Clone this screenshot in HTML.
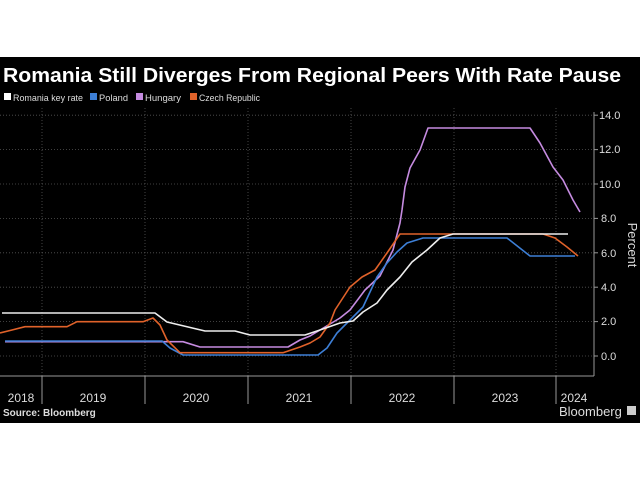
<!DOCTYPE html>
<html><head><style>
body{margin:0;background:#fff;}
svg{display:block;font-family:"Liberation Sans",sans-serif;}
</style></head><body>
<svg width="640" height="480" viewBox="0 0 640 480">
<rect x="0" y="57" width="640" height="366" fill="#000"/>
<text x="3" y="82" fill="#fff" font-size="20" font-weight="bold" textLength="618" lengthAdjust="spacingAndGlyphs">Romania Still Diverges From Regional Peers With Rate Pause</text>
<g font-size="9" fill="#ddd">
<rect x="4" y="93" width="7" height="7" fill="#fff"/><text x="13" y="101" textLength="70" lengthAdjust="spacingAndGlyphs">Romania key rate</text>
<rect x="90" y="93" width="7" height="7" fill="#3d7fd6"/><text x="99" y="101" textLength="29" lengthAdjust="spacingAndGlyphs">Poland</text>
<rect x="136" y="93" width="7" height="7" fill="#c58be0"/><text x="145" y="101" textLength="36" lengthAdjust="spacingAndGlyphs">Hungary</text>
<rect x="190" y="93" width="7" height="7" fill="#e0622a"/><text x="199" y="101" textLength="61" lengthAdjust="spacingAndGlyphs">Czech Republic</text>
</g>
<g stroke="#555" stroke-width="0.8" stroke-dasharray="1,2">
<line x1="0" x2="594" y1="115.2" y2="115.2"/><line x1="0" x2="594" y1="149.6" y2="149.6"/>
<line x1="0" x2="594" y1="184" y2="184"/><line x1="0" x2="594" y1="218.4" y2="218.4"/>
<line x1="0" x2="594" y1="252.8" y2="252.8"/><line x1="0" x2="594" y1="287.2" y2="287.2"/>
<line x1="0" x2="594" y1="321.6" y2="321.6"/><line x1="0" x2="594" y1="356" y2="356"/>
<line x1="42" x2="42" y1="108" y2="376"/><line x1="145" x2="145" y1="108" y2="376"/>
<line x1="248" x2="248" y1="108" y2="376"/><line x1="351" x2="351" y1="108" y2="376"/>
<line x1="454" x2="454" y1="108" y2="376"/><line x1="556" x2="556" y1="108" y2="376"/>
</g>
<g stroke="#999" stroke-width="1">
<line x1="0" x2="594" y1="376" y2="376"/><line x1="594" x2="594" y1="112" y2="376"/>
<line x1="42" x2="42" y1="376" y2="404"/><line x1="145" x2="145" y1="376" y2="404"/>
<line x1="248" x2="248" y1="376" y2="404"/><line x1="351" x2="351" y1="376" y2="404"/>
<line x1="454" x2="454" y1="376" y2="404"/><line x1="556" x2="556" y1="376" y2="404"/>
<line x1="594" x2="598" y1="115.2" y2="115.2"/><line x1="594" x2="598" y1="149.6" y2="149.6"/>
<line x1="594" x2="598" y1="184" y2="184"/><line x1="594" x2="598" y1="218.4" y2="218.4"/>
<line x1="594" x2="598" y1="252.8" y2="252.8"/><line x1="594" x2="598" y1="287.2" y2="287.2"/>
<line x1="594" x2="598" y1="321.6" y2="321.6"/><line x1="594" x2="598" y1="356" y2="356"/>
</g>
<g font-size="11" fill="#ddd">
<text x="599" y="119">14.0</text><text x="599" y="153">12.0</text><text x="599" y="188">10.0</text>
<text x="601" y="222">8.0</text><text x="601" y="257">6.0</text><text x="601" y="291">4.0</text>
<text x="601" y="325">2.0</text><text x="601" y="360">0.0</text>
<text x="628" y="245" font-size="13" transform="rotate(90 628 245)" text-anchor="middle">Percent</text>
<g font-size="12" text-anchor="middle">
<text x="21" y="402">2018</text><text x="93" y="402">2019</text><text x="196" y="402">2020</text>
<text x="299" y="402">2021</text><text x="402" y="402">2022</text><text x="505" y="402">2023</text><text x="574" y="402">2024</text>
</g>
</g>
<text x="3" y="416" fill="#ddd" font-size="10" font-weight="bold">Source: Bloomberg</text>
<text x="559" y="416" fill="#ddd" font-size="13">Bloomberg</text>
<rect x="627" y="406" width="9" height="9" fill="#ccc"/>
<g fill="none" stroke-width="1.6" stroke-linejoin="round">
<polyline stroke="#c58be0" points="5,341.7 183,341.7 200,347 288,347 300,340 310,336 320,330 340,318 350,310 365,290 380,276 393,250 400,223 402,210 405,187 410,168 420,150 428,128 530,128 540,143 553,167 563,180 573,200 580,212"/>
<polyline stroke="#3d7fd6" points="5,341 162,341 170,348 183,355 318,355 327,348 337,333 352,318 363,307 377,277 387,263 397,252 407,243 423,238 507,238 530,256 575,256"/>
<polyline stroke="#e0622a" points="0,333 12,330 25,326.7 67,326.7 77,321.7 143,321.7 153,318 160,325 167,340 180,352.7 283,352.7 300,347 310,343 320,337 330,323 335,310 350,287 362,277 375,270 387,253 400,234 543,234 555,238 567,247 578,256"/>
<polyline stroke="#eee" points="2,313 155,313 167,322 205,331 235,331 250,335 305,335 320,330 340,323 353,321 363,312 377,303 387,290 400,277 412,262 427,250 440,238 453,234 568,234"/>
</g>
</svg>
</body></html>
